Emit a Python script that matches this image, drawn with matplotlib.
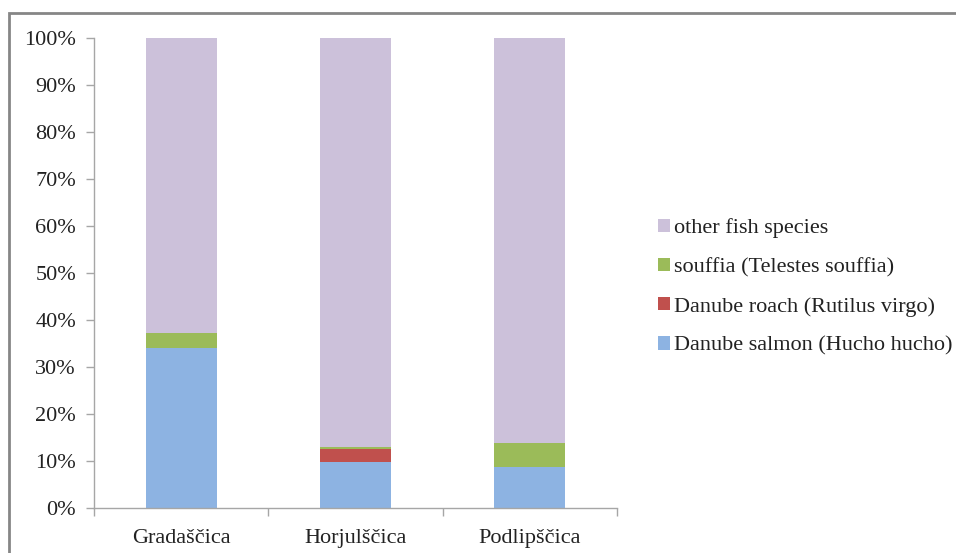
import matplotlib
matplotlib.use("Agg")
import matplotlib.pyplot as plt
from matplotlib.patches import Rectangle, Patch
from matplotlib.ticker import PercentFormatter

categories = ["Gradaščica", "Horjulščica", "Podlipščica"]
series_names = ["Danube salmon (Hucho hucho)", "Danube roach (Rutilus virgo)",
                "souffia (Telestes souffia)", "other fish species"]
salmon = [34.1, 9.8, 8.8]
roach = [0.0, 2.8, 0.0]
souffia = [3.1, 0.4, 5.1]
other = [62.8, 87.0, 86.1]
colors = ["#8DB3E2", "#C0504D", "#9BBB59", "#CCC1DA"]

plt.rcParams['font.family'] = ['Liberation Serif', 'DejaVu Serif']
fig = plt.figure(figsize=(9.56, 5.53), dpi=100)
ax = fig.add_axes([94/956, 45/553, (617-94)/956, (508-38)/553])

x = list(range(len(categories)))
bottom = [0.0]*3
handles = []
for vals, name, c in zip([salmon, roach, souffia, other], series_names, colors):
    ax.bar(x, vals, width=0.407, bottom=bottom, color=c, edgecolor='none', label=name)
    bottom = [b + v for b, v in zip(bottom, vals)]
    handles.append(Patch(facecolor=c, edgecolor='none', label=name))

ax.set_xlim(-0.5, 2.5)
ax.set_ylim(0, 100)
ax.set_yticks(range(0, 101, 10))
ax.yaxis.set_major_formatter(PercentFormatter(decimals=0))
ax.set_xticks(x)
ax.set_xticklabels(categories)
ax.set_xticks([-0.5, 0.5, 1.5, 2.5], minor=True)
ax.tick_params(axis='x', which='major', length=0, pad=15, labelsize=16, colors='#222222')
ax.tick_params(axis='x', which='minor', length=6, color='#a6a6a6', width=1)
ax.tick_params(axis='y', length=6, color='#a6a6a6', width=1, labelsize=16, pad=7, colors='#222222')
ax.tick_params(axis='y', color='#a6a6a6')
for s in ['top', 'right']:
    ax.spines[s].set_visible(False)
for s in ['left', 'bottom']:
    ax.spines[s].set_color('#a6a6a6')
    ax.spines[s].set_linewidth(1)

leg = fig.legend(handles=handles[::-1], loc='center left',
                 bbox_to_anchor=(638/956, 1-287/553), frameon=False,
                 fontsize=16, handlelength=0.55, handleheight=0.55,
                 handletextpad=0.15, labelspacing=0.88, labelcolor='#222222')

# outer frame (top and left visible)
fig.patches.append(Rectangle((9/956, -0.1), 1.2, 1.1 - 13/553, transform=fig.transFigure,
                             fill=False, edgecolor='#868686', linewidth=2, clip_on=False))

fig.savefig("out.png", dpi=100)
